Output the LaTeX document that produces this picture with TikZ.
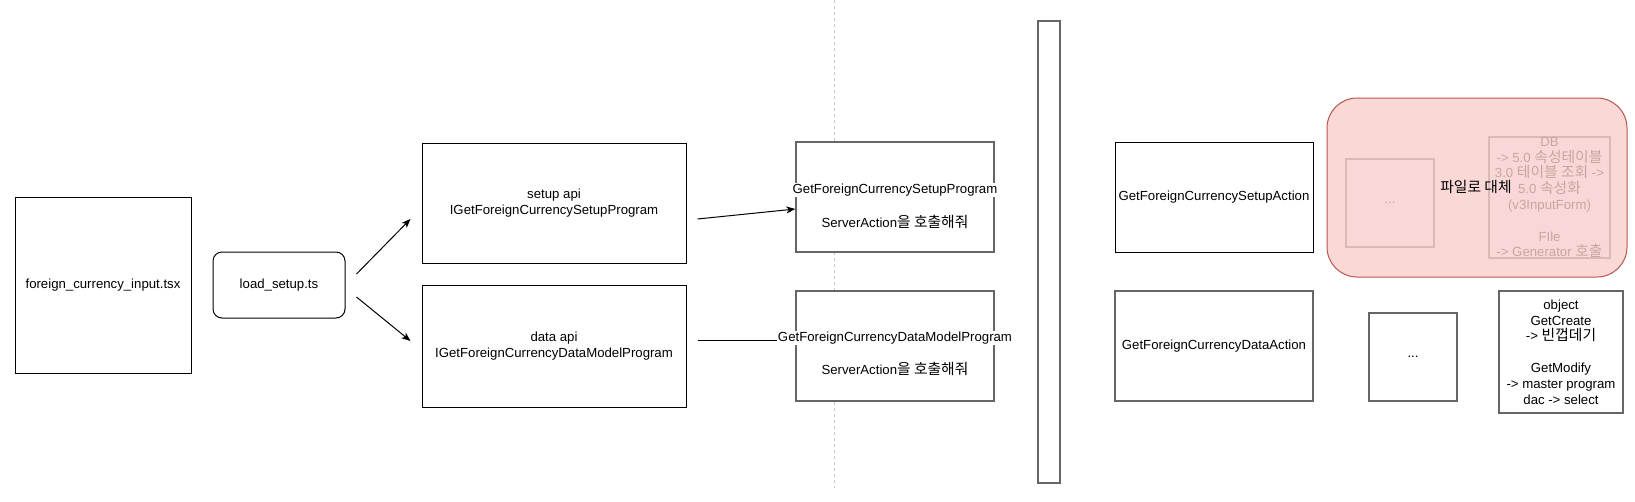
\documentclass[tikz,border=0pt]{standalone}
\usepackage{fontspec}
\setmainfont{Liberation Sans}
\newfontfamily\kr{Noto Sans CJK KR}[Scale=1.12]
\usetikzlibrary{arrows.meta}
\definecolor{gry}{HTML}{666666}
\definecolor{pinkfill}{HTML}{F8CECC}
\definecolor{pinkline}{HTML}{B85450}
\definecolor{dashgray}{HTML}{C8C8C8}
\tikzset{
  blk/.style={draw=black, line width=1pt, fill=white},
  gbox/.style={draw=gry, line width=1.3pt, fill=white},
  arr/.style={-{Stealth[length=9pt,width=7pt,inset=2.5pt]}, line width=1pt, draw=black},
  plain/.style={line width=1pt, draw=black},
  sep/.style={draw=dashgray, line width=1pt, dash pattern=on 3pt off 3pt},
  lbl/.style={fill=white, inner sep=0.5pt}
}
\begin{document}
\begin{tikzpicture}[x=1pt,y=-1pt,
  every node/.style={font=\fontsize{13.2pt}{15.8pt}\selectfont, inner sep=0pt, align=center}]
\useasboundingbox (0,0) rectangle (1635,501);
% dashed separator
\coordinate (septop) at (834,0);
\coordinate (sepbot) at (834,488);
\draw[sep] (septop) -- (sepbot);

% left nodes
\node[blk, minimum width=176pt, minimum height=176pt] (fci) at (103,285) {foreign\_currency\_input.tsx};
\node[blk, rounded corners=9pt, minimum width=132pt, minimum height=66pt] (load) at (279,285) {load\_setup.ts};
\node[blk, minimum width=264pt, minimum height=120pt] (setupapi) at (554,203) {setup api\\IGetForeignCurrencySetupProgram};
\node[blk, minimum width=264pt, minimum height=122pt] (dataapi) at (554,346) {data api\\IGetForeignCurrencyDataModelProgram};

% program boxes
\node[gbox, minimum width=198pt, minimum height=110pt] (setupprog) at (895,197) {};
\node[gbox, minimum width=198pt, minimum height=110pt] (dataprog) at (895,346) {};

% program labels
\node[lbl] (sp1) at (895,190) {GetForeignCurrencySetupProgram};
\node (sp2) at (895,222) {ServerAction{\kr 을 호출해줘}};
\node[lbl] (dp1) at (895,338) {GetForeignCurrencyDataModelProgram};
\node (dp2) at (895,369) {ServerAction{\kr 을 호출해줘}};

% connectors
\draw[arr] ([xshift=11pt,yshift=11pt]load.east) -- ([xshift=-11pt,yshift=-16pt]setupapi.west);
\draw[arr] ([xshift=11pt,yshift=-12pt]load.east) -- ([xshift=-11pt,yshift=5pt]dataapi.west);
\draw[arr] ([xshift=11pt,yshift=-16pt]setupapi.east) -- ([yshift=-12pt]setupprog.west);
\coordinate (dstart) at ([xshift=11pt,yshift=6pt]dataapi.east);
\draw[plain] (dstart) -- (dstart -| dp1.west);

% tall bar
\node[gbox, minimum width=22pt, minimum height=462pt] (bar) at (1049,252) {};

% action boxes
\node[blk, minimum width=198pt, minimum height=110pt] (setupact) at (1214,197) {GetForeignCurrencySetupAction};
\node[gbox, minimum width=198pt, minimum height=110pt] (dataact) at (1214,346) {GetForeignCurrencyDataAction};

% inner boxes (under the pink overlay)
\node[gbox, minimum width=88pt, minimum height=88pt] (innerdots) at (1390,203) {...};
\node[gbox, minimum width=121pt, minimum height=121pt] (db) at (1549.5,197.5) {};
\node (dbtext) at (1549.5,197.5) {DB\\-> 5.0 {\kr 속성테이블}\\3.0 {\kr 테이블 조회} ->\\5.0 {\kr 속성화}\\(v3InputForm)\\[15.8pt]FIle\\-> Generator {\kr 호출}};

% pink overlay
\node[draw=pinkline, fill=pinkfill, fill opacity=0.8, text opacity=1, line width=1pt,
      rounded corners=30pt, minimum width=300pt, minimum height=179pt] (pink) at (1477,187.5) {};
\node (replace) at (1476,187) {\kr 파일로 대체};

% right lower boxes
\node[gbox, minimum width=88pt, minimum height=88pt] (dots2) at (1413,357) {...};
\node[gbox, minimum width=124pt, minimum height=122pt] (obj) at (1561,352) {object\\GetCreate\\-> {\kr 빈껍데기}\\[15.8pt]GetModify\\-> master program\\dac -> select};
\end{tikzpicture}
\end{document}
